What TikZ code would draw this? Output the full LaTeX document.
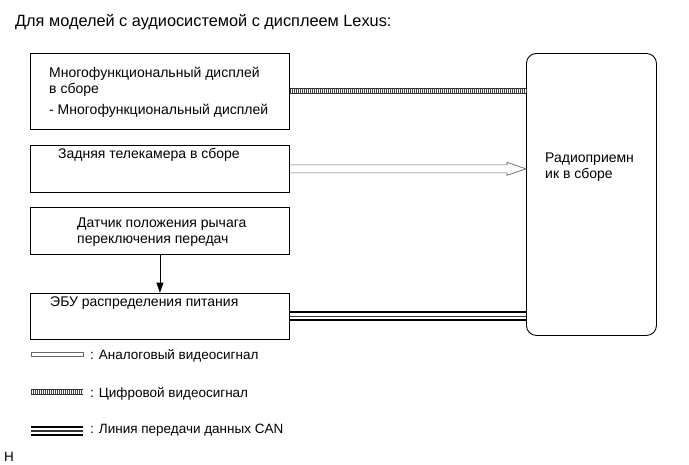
\documentclass[tikz,border=0pt]{standalone}
\usepackage{fontspec}
\setmainfont{Liberation Sans}
\usetikzlibrary{positioning,arrows.meta}

\tikzset{
  blk/.style={draw, line width=0.9pt, minimum width=259pt, inner sep=0pt},
  lbl/.style={anchor=north west, inner sep=0pt, align=left,
              font=\fontsize{14}{15.5}\selectfont},
  leg/.style={lbl, font=\fontsize{13.5}{15.5}\selectfont},
  digital/.style={line width=6pt, draw=black!80,
                  postaction={draw=white, line width=4pt},
                  postaction={draw=black!75, line width=4pt, dash pattern=on 1pt off 1pt}},
  analog/.style={draw=black!60, line width=0.7pt},
  can/.style={line width=10pt, draw=black,
              postaction={draw=white, line width=6pt},
              postaction={draw=black!80, line width=1.2pt}},
}

\begin{document}
\begin{tikzpicture}[x=1pt, y=-1pt]
  \useasboundingbox (0,0) rectangle (689,464);

  \node[anchor=north west, inner sep=0pt, font=\fontsize{16.3}{18}\selectfont]
    (title) at (15,14) {Для моделей с аудиосистемой с дисплеем Lexus:};

  % blocks on the left
  \node[blk, minimum height=76pt, anchor=north west] (disp) at (30,53) {};
  \node[blk, minimum height=47pt, below=15pt of disp] (cam) {};
  \node[blk, minimum height=47pt, below=14pt of cam] (sensor) {};
  \node[blk, minimum height=46pt, below=38pt of sensor] (ecu) {};

  % radio
  \node[draw, line width=0.9pt, rounded corners=10pt, minimum width=130pt,
        minimum height=282pt, anchor=north west] (radio) at (526,53) {};

  % texts
  \node[lbl] (dispT) at (49,67) {Многофункциональный дисплей\\в сборе\\[6pt]- Многофункциональный дисплей};
  \node[lbl] (camT) at (58,148) {Задняя телекамера в сборе};
  \node[lbl] (sensorT) at (77,218) {Датчик положения рычага\\переключения передач};
  \node[lbl] (ecuT) at (50,297) {ЭБУ распределения питания};
  \node[lbl] (radioT) at (545,153) {Радиоприемн\\ик в сборе};

  % connections
  \draw[digital] (disp.east) -- (disp.east -| radio.west);
  \coordinate (tip) at (cam.east -| radio.west);
  \draw[analog] ([yshift=-4pt]cam.east) -- ([xshift=-19pt,yshift=-4pt]tip)
    -- ([xshift=-19pt,yshift=-6.5pt]tip) -- (tip)
    -- ([xshift=-19pt,yshift=6.5pt]tip) -- ([xshift=-19pt,yshift=4pt]tip)
    -- ([yshift=4pt]cam.east);
  \draw[line width=0.7pt, -{Triangle[length=10pt,width=7pt]}] (sensor.south) -- (ecu.north);
  \draw[can] (ecu.east) -- (ecu.east -| radio.west);

  % legend
  \draw[analog] (31,352) rectangle (83,356);
  \draw[digital] (31,392) -- (83,392);
  \draw[can] (31,431) -- (83,431);
  \node[leg] (lgA) at (90,349) {: Аналоговый видеосигнал};
  \node[leg] (lgD) at (90,387) {: Цифровой видеосигнал};
  \node[leg] (lgC) at (90,424) {: Линия передачи данных CAN};
  \node[leg] (nH) at (4,452) {Н};
\end{tikzpicture}
\end{document}
